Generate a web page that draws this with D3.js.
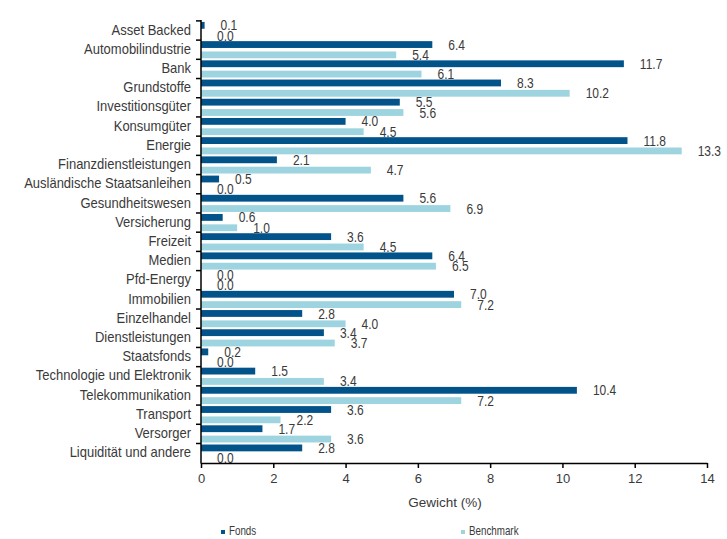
<!DOCTYPE html>
<html>
<head>
<meta charset="utf-8">
<script src="https://cdn.jsdelivr.net/npm/d3@7"></script>
<style>
  body { margin: 0; background: #fff; }
  text { fill: #3a3a3a; }
</style>
</head>
<body>
<div id="chart"></div>
<script>
// data
const categories = ['Asset Backed', 'Automobilindustrie', 'Bank', 'Grundstoffe', 'Investitionsgüter',
  'Konsumgüter', 'Energie', 'Finanzdienstleistungen', 'Ausländische Staatsanleihen', 'Gesundheitswesen',
  'Versicherung', 'Freizeit', 'Medien', 'Pfd-Energy', 'Immobilien', 'Einzelhandel', 'Dienstleistungen',
  'Staatsfonds', 'Technologie und Elektronik', 'Telekommunikation', 'Transport', 'Versorger',
  'Liquidität und andere'];
const fonds = [0.1, 6.4, 11.7, 8.3, 5.5, 4.0, 11.8, 2.1, 0.5, 5.6, 0.6, 3.6, 6.4, 0.0, 7.0, 2.8, 3.4,
  0.2, 1.5, 10.4, 3.6, 1.7, 2.8];
const benchmark = [0.0, 5.4, 6.1, 10.2, 5.6, 4.5, 13.3, 4.7, 0.0, 6.9, 1.0, 4.5, 6.5, 0.0, 7.2, 4.0, 3.7,
  0.0, 3.4, 7.2, 2.2, 3.6, 0.0];
const seriesNames = ['Fonds', 'Benchmark'];
const xTicks = [0, 2, 4, 6, 8, 10, 12, 14];

const colors = ['#01538a', '#9dd4df'];
const width = 727, height = 539;
const font = "'Liberation Sans', Arial, sans-serif";

const rows = categories.map((c, i) => ({cat: c, vals: [fonds[i], benchmark[i]]}));

const svg = d3.select('#chart').append('svg')
    .attr('width', width)
    .attr('height', height)
    .style('font-family', font);

const x = d3.scaleLinear().domain([0, 14]).range([201, 707]);
const y = d3.scaleBand().domain(categories).range([20.9, 462.7]);
const ySub = d3.scaleBand().domain([0, 1]).range([0, y.bandwidth()])
    .paddingInner(0.34).paddingOuter(0.1);

// the source text is a bit taller than it is wide, so stretch it vertically
const stretch = (px, py, k) => `translate(${px}, ${py}) scale(1, ${k})`;

// bars
const groups = svg.selectAll('g.row')
    .data(rows)
    .join('g')
    .classed('row', true)
    .attr('transform', d => `translate(0, ${y(d.cat)})`);

groups.selectAll('rect')
    .data(d => d.vals)
    .join('rect')
    .attr('x', x(0))
    .attr('y', (d, i) => ySub(i))
    .attr('width', d => x(d) - x(0))
    .attr('height', ySub.bandwidth())
    .attr('fill', (d, i) => colors[i]);

// value labels
groups.selectAll('text.val')
    .data(d => d.vals)
    .join('text')
    .classed('val', true)
    .attr('transform', (d, i) => stretch(x(d) + 16, ySub(i) + ySub.bandwidth() / 2, 1.17))
    .attr('dy', '0.36em')
    .style('font-size', '12px')
    .text(d => d.toFixed(1));

// y axis
const yAxis = svg.append('g');
yAxis.append('line')
    .attr('x1', x(0)).attr('x2', x(0))
    .attr('y1', 20).attr('y2', 463.5)
    .attr('stroke', '#000').attr('stroke-width', 1.5);
const bounds = categories.map(c => y(c)).concat([y.range()[1]]);
yAxis.selectAll('line.tick')
    .data(bounds.slice(0, -1))
    .join('line')
    .classed('tick', true)
    .attr('x1', x(0) - 5).attr('x2', x(0))
    .attr('y1', d => d)
    .attr('y2', d => d)
    .attr('stroke', '#000').attr('stroke-width', 1.5);
yAxis.selectAll('text')
    .data(categories)
    .join('text')
    .attr('transform', d => stretch(191, y(d) + y.bandwidth() / 2 - 1, 1.1))
    .attr('dy', '0.36em')
    .attr('text-anchor', 'end')
    .style('font-size', '13px')
    .text(d => d);

// x axis
const xAxis = svg.append('g')
    .attr('transform', `translate(0, 463)`)
    .call(d3.axisBottom(x).tickValues(xTicks).tickSize(5).tickSizeOuter(0));
xAxis.select('.domain').attr('stroke', '#000').attr('stroke-width', 1.5);
xAxis.selectAll('.tick line').attr('stroke', '#000').attr('stroke-width', 1.5);
xAxis.selectAll('.tick text')
    .attr('y', 11)
    .style('font-family', font)
    .style('font-size', '13px')
    .style('fill', '#3a3a3a');

svg.append('text')
    .attr('x', 445).attr('y', 507)
    .attr('text-anchor', 'middle')
    .style('font-size', '13.5px')
    .text('Gewicht (%)');

// legend
const legend = svg.selectAll('g.legend')
    .data(seriesNames)
    .join('g')
    .classed('legend', true)
    .attr('transform', (d, i) => `translate(${[221, 461][i]}, 535)`);
legend.append('rect')
    .attr('x', 0).attr('y', -5)
    .attr('width', 4).attr('height', 4)
    .attr('fill', (d, i) => colors[i]);
legend.append('text')
    .attr('transform', stretch(8, 0, 1.22))
    .style('font-size', '9.8px')
    .text(d => d);
</script>
</body>
</html>
